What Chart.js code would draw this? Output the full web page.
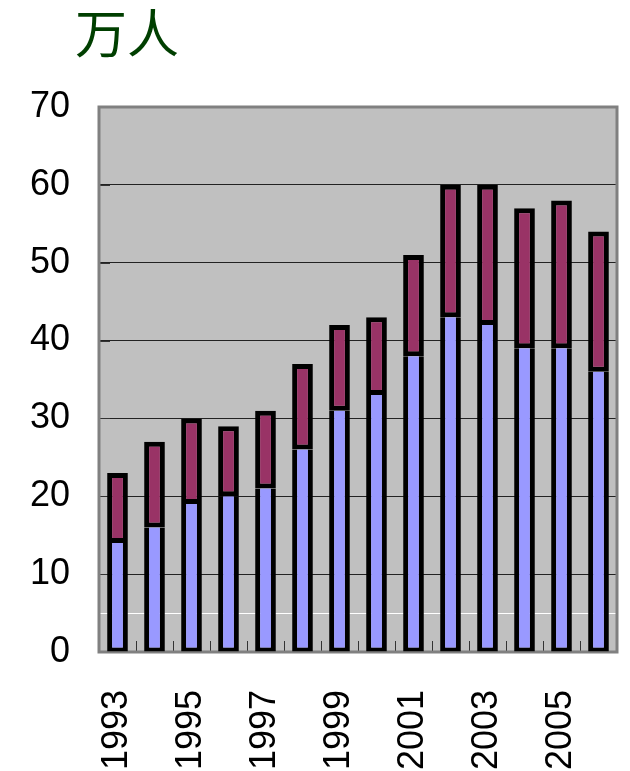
<!DOCTYPE html>
<html>
<head>
<meta charset="utf-8">
<script src="https://cdn.jsdelivr.net/npm/chart.js@4.4.1/dist/chart.umd.min.js"></script>
<style>
  body { margin: 0; background: #fff; }
  #wrap { position: relative; width: 630px; height: 771px; }
  #unit { position: absolute; left: 75px; top: 0px; font: 52px "Noto Sans CJK SC"; color: #003f00; line-height: 1.2; }
</style>
</head>
<body>
<div id="wrap">
  <div id="unit">万人</div>
  <canvas id="chart" width="630" height="771"></canvas>
</div>
<script>
const years = ["1993", "1994", "1995", "1996", "1997", "1998", "1999",
               "2000", "2001", "2002", "2003", "2004", "2005", "2006"];
const lowerValues = [14, 16, 19, 20, 21, 26, 31, 33, 38, 43, 42, 39, 39, 36];
const upperValues = [9, 11, 11, 9, 10, 11, 11, 10, 13, 17, 18, 18, 19, 18];
const yTicks = [0, 10, 20, 30, 40, 50, 60, 70];
const whiteLine = 5;

// plot background, frame and the little inward tick marks
const frame = {
  id: "frame",
  beforeDatasetsDraw(chart) {
    const { ctx, chartArea: a, scales } = chart;
    ctx.save();
    ctx.strokeStyle = "#333";
    ctx.lineWidth = 1;
    const half = (scales.x.getPixelForValue(1) - scales.x.getPixelForValue(0)) / 2;
    for (let i = 0; i <= years.length; i++) {
      const x = Math.round(scales.x.getPixelForValue(i) - half) + 0.5;
      ctx.beginPath();
      ctx.moveTo(x, a.bottom);
      ctx.lineTo(x, a.bottom - 11);
      ctx.stroke();
    }
    for (const v of yTicks) {
      const y = Math.round(scales.y.getPixelForValue(v)) + 0.5;
      ctx.beginPath();
      ctx.moveTo(a.left, y);
      ctx.lineTo(a.left + 11, y);
      ctx.stroke();
    }
    ctx.strokeStyle = "#808080";
    ctx.lineWidth = 3;
    ctx.strokeRect(a.left, a.top, a.right - a.left, a.bottom - a.top);
    ctx.restore();
  },
  beforeDraw(chart) {
    const { ctx, chartArea: a } = chart;
    ctx.save();
    ctx.fillStyle = "#c0c0c0";
    ctx.fillRect(a.left, a.top, a.right - a.left, a.bottom - a.top);
    ctx.restore();
  }
};

new Chart(document.getElementById("chart"), {
  type: "bar",
  data: {
    labels: years,
    datasets: [
      {
        data: lowerValues,
        backgroundColor: "#9999ff",
        borderColor: "#000",
        borderWidth: { left: 5, right: 5, top: 0, bottom: 4 },
        borderSkipped: false
      },
      {
        data: upperValues,
        backgroundColor: "#993366",
        borderColor: "#000",
        borderWidth: { left: 5, right: 5, top: 5, bottom: 5 },
        borderSkipped: false
      }
    ]
  },
  options: {
    responsive: false,
    animation: false,
    devicePixelRatio: 1,
    layout: { padding: { top: 107, right: 13, left: 0, bottom: 0 } },
    plugins: { legend: { display: false }, tooltip: { enabled: false } },
    datasets: { bar: { barPercentage: 0.56, categoryPercentage: 1, inflateAmount: 0 } },
    scales: {
      x: {
        stacked: true,
        grid: { display: false },
        border: { display: false },
        ticks: {
          autoSkip: false,
          minRotation: 90,
          maxRotation: 90,
          padding: 30,
          color: "#000",
          font: { family: "Liberation Sans", size: 36 },
          callback: (v, i) => (i % 2 === 0 ? years[i] : "")
        },
        afterFit: s => { s.height = 119; s.paddingLeft = 0; s.paddingRight = 0; }
      },
      y: {
        stacked: true,
        min: 0,
        max: 70,
        afterBuildTicks: s => {
          s.ticks = yTicks.concat([whiteLine]).sort((a, b) => a - b).map(v => ({ value: v }));
        },
        grid: {
          drawTicks: false,
          lineWidth: 1,
          color: c => (c.tick && c.tick.value === whiteLine ? "#ffffff" : "#222222")
        },
        border: { display: false },
        ticks: {
          padding: 29,
          color: "#000",
          font: { family: "Liberation Sans", size: 36 },
          callback: v => (v === whiteLine ? "" : v)
        },
        afterFit: s => { s.width = 99; s.paddingTop = 0; s.paddingBottom = 0; }
      }
    }
  },
  plugins: [frame]
});
</script>
</body>
</html>
